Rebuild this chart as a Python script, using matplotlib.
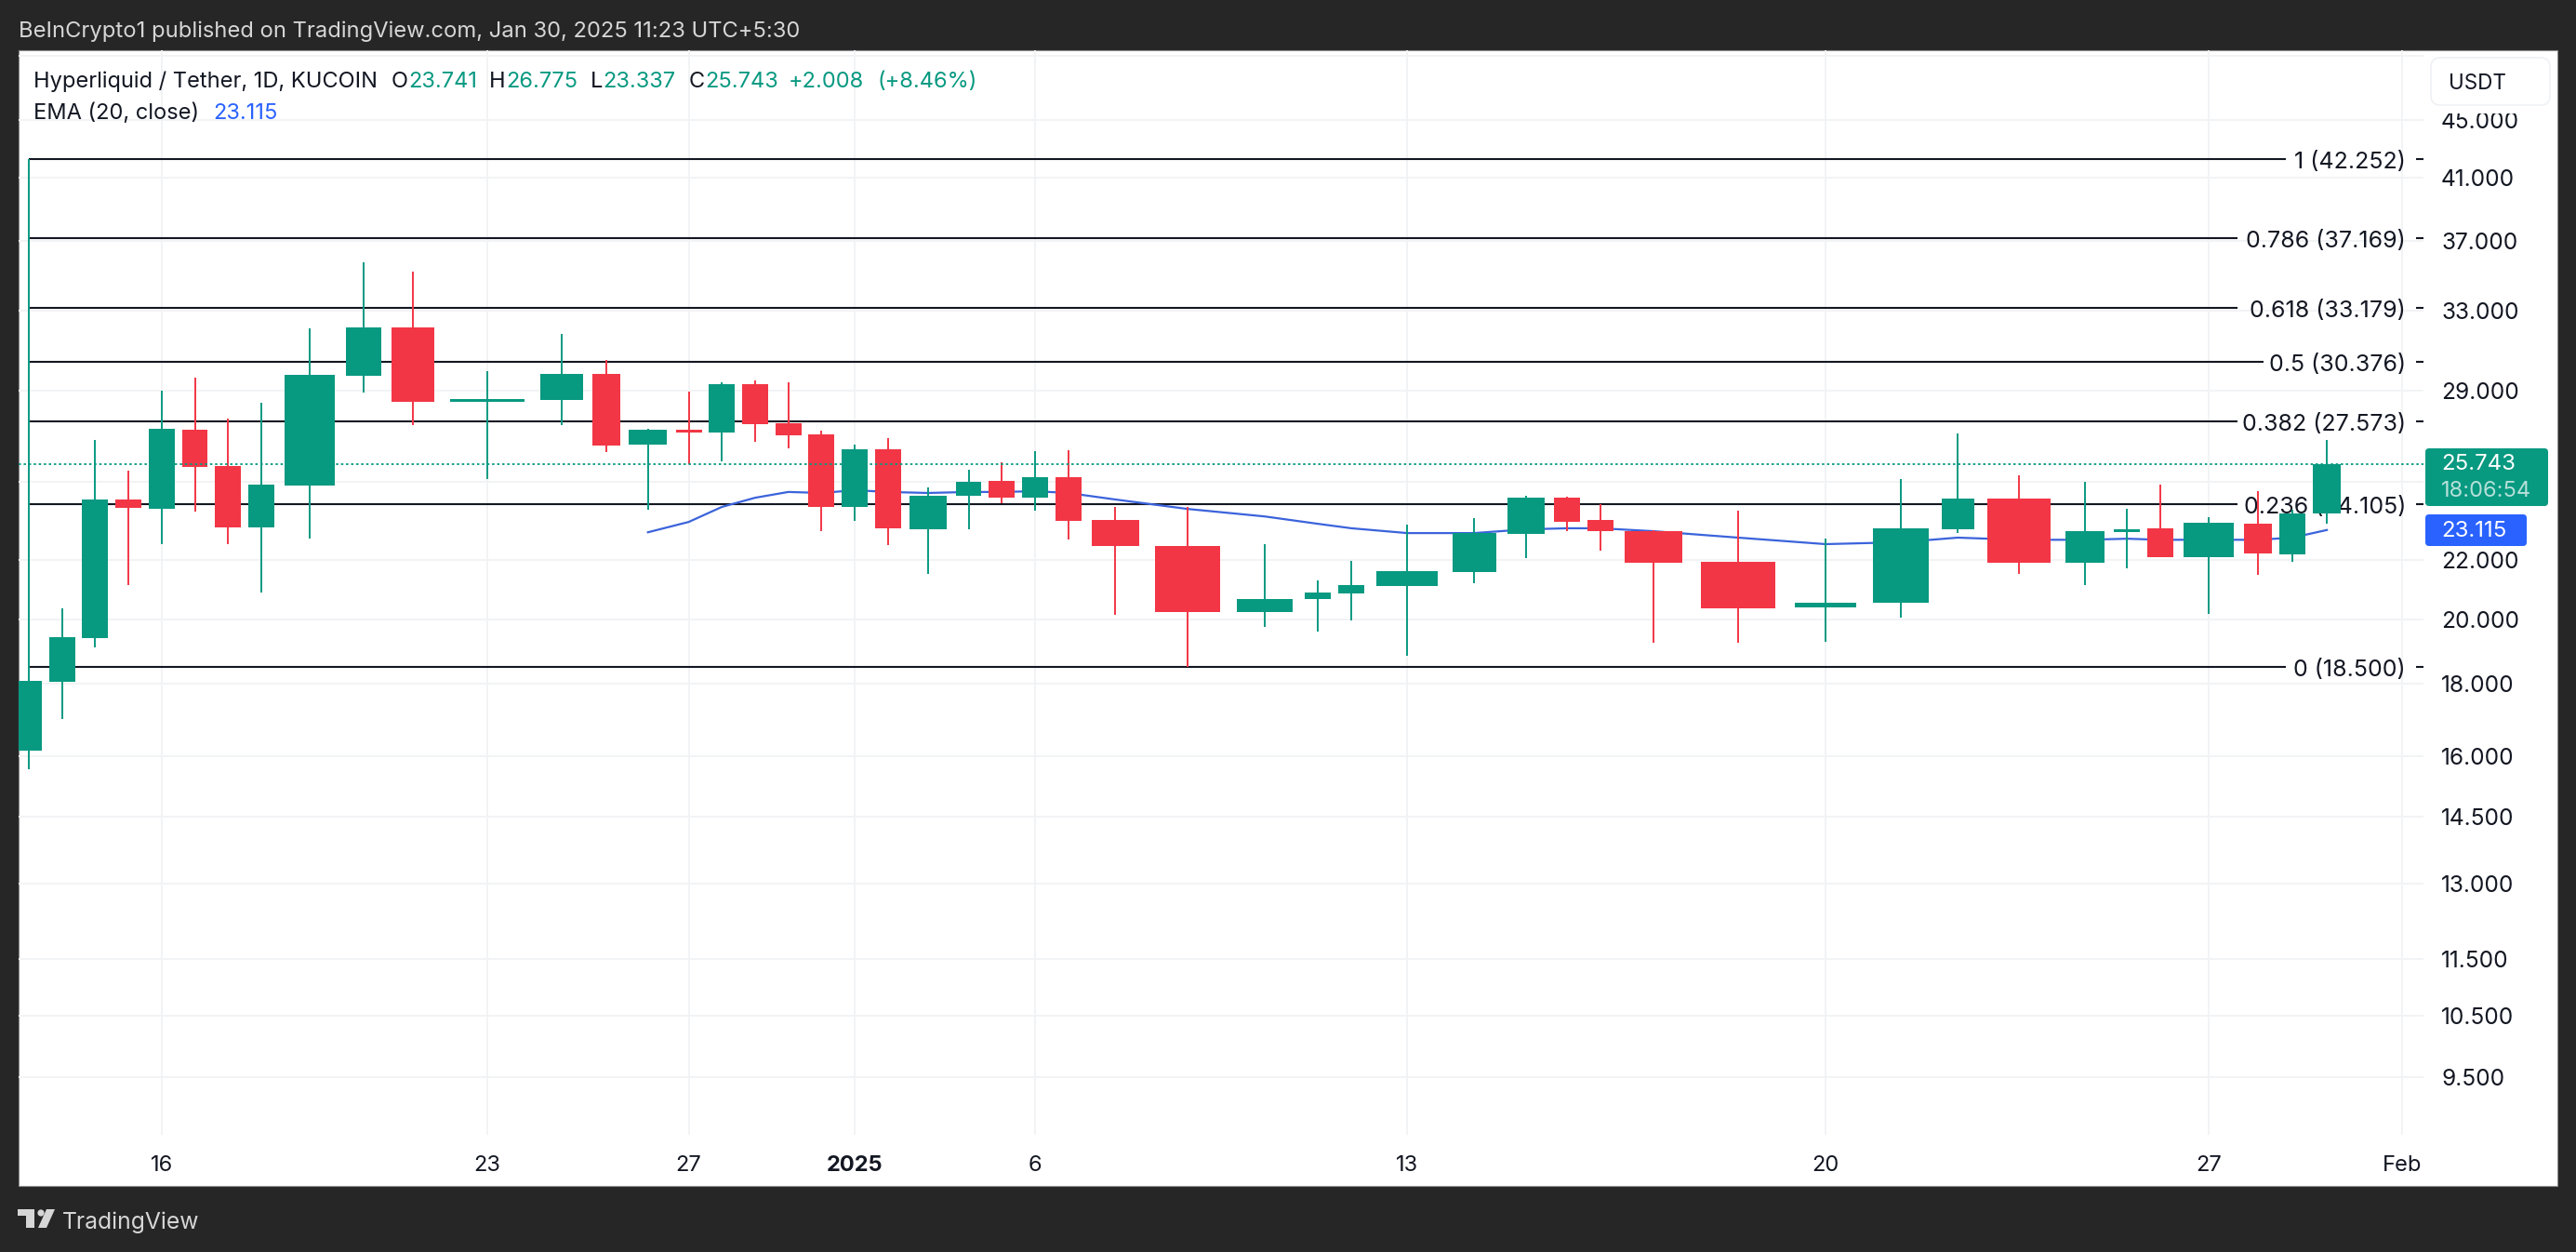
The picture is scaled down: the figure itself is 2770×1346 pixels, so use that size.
import matplotlib
matplotlib.use('Agg')
import matplotlib.pyplot as plt
import numpy as np
from matplotlib.patches import Rectangle, FancyBboxPatch, Polygon, Circle
from matplotlib.ticker import FixedLocator, FixedFormatter, NullLocator

plt.rcParams['font.family'] = ['Inter', 'DejaVu Sans']

# daily candles, Dec 12 2024 .. Jan 30 2025 (KuCoin HYPE/USDT)
opens = [16.14, 18.06, 19.40, 24.29, 23.92, 27.2, 25.64, 23.21, 24.85, 29.7,
         32.13, 28.47, 28.57, 29.8, 26.56, 27.2, 27.08, 29.3, 27.49, 27.0,
         24.0, 26.36, 23.14, 24.44, 25.03, 24.36, 25.18, 23.49, 22.52, 20.23,
         20.66, 20.85, 21.1, 21.58, 22.96, 24.36, 23.49, 23.07, 21.95, 20.39,
         20.54, 23.14, 24.33, 21.92, 23.05, 23.18, 22.11, 23.35, 22.22, 23.741]
highs = [42.252, 20.35, 26.76, 25.45, 29.0, 29.6, 27.70, 28.43, 32.1, 35.7,
         35.2, 29.93, 31.8, 30.48, 27.25, 28.95, 29.4, 29.5, 29.4, 27.15,
         26.56, 26.84, 24.77, 25.49, 25.8, 26.28, 26.32, 24.0, 24.0, 22.59,
         21.3, 21.98, 23.31, 23.56, 24.44, 24.4, 24.1, 23.1, 23.85, 22.79,
         25.1, 27.05, 25.25, 25.0, 23.92, 24.88, 23.6, 24.62, 23.9, 26.775]
lows = [15.66, 17.0, 19.10, 21.14, 22.59, 23.8, 22.59, 20.88, 22.79, 28.9,
        27.41, 25.11, 27.41, 26.24, 23.89, 25.72, 25.84, 26.68, 26.4, 23.07,
        23.46, 22.55, 21.52, 23.14, 24.14, 23.85, 22.75, 20.13, 18.5, 19.74,
        19.59, 19.95, 18.84, 21.2, 22.08, 23.07, 22.35, 19.25, 19.25, 19.28,
        20.04, 23.0, 21.52, 21.14, 21.72, 22.11, 20.17, 21.49, 21.95, 23.337]
closes = [18.1, 19.43, 24.29, 23.96, 27.24, 25.6, 23.21, 24.88, 29.75, 32.13,
          28.47, 28.60, 29.8, 26.52, 27.2, 27.08, 29.3, 27.45, 26.96, 24.0,
          26.36, 23.18, 24.44, 25.0, 24.36, 25.18, 23.46, 22.52, 20.23, 20.66,
          20.88, 21.14, 21.62, 23.0, 24.36, 23.42, 23.07, 21.92, 20.35, 20.54,
          23.18, 24.33, 21.92, 23.07, 23.15, 22.11, 23.38, 22.25, 23.74, 25.743]
# equivolume chart: the slot of each candle follows its volume (scaled)
volumes = [35.7, 35.7, 35.7, 35.7, 35.7, 35.7, 35.7, 35.7, 68.5, 47.5,
           58.5, 101.5, 58.5, 37.5, 52, 35.7, 35.7, 35.7, 35.7, 35.7,
           35.7, 35.7, 51, 35.7, 35.7, 35.7, 35.7, 66, 89.2, 76.8,
           37, 35.7, 83.9, 60.1, 51.9, 36, 35.7, 78.7, 103.3, 84.7,
           77.3, 44.7, 87.3, 54.7, 35.7, 35.7, 68.5, 37.5, 36.5, 37.5]
ema_first = 14
ema = [23.03, 23.42, 24.0, 24.36, 24.59, 24.55, 24.66, 24.59, 24.55, 24.59,
       24.59, 24.62, 24.55, 24.29, 23.92, 23.63, 23.35, 23.18, 23.0, 23.0,
       23.14, 23.18, 23.18, 23.07, 22.83, 22.59, 22.66, 22.83, 22.75, 22.75,
       22.79, 22.75, 22.75, 22.75, 22.83, 23.115]

fib_levels = ['1', '0.786', '0.618', '0.5', '0.382', '0.236', '0']
fib_prices = [42.252, 37.169, 33.179, 30.376, 27.573, 24.105, 18.5]

price_ticks = [50, 45, 41, 37, 33, 29, 25, 22, 20, 18, 16, 14.5, 13, 11.5, 10.5, 9.5]
hidden_ticks = [50, 25]  # labels sit behind the USDT button / price tag
date_idx = [4, 11, 15, 20, 25, 32, 39, 46]
date_labels = ['16', '23', '27', '2025', '6', '13', '20', '27']

GREEN = '#089981'
RED = '#F23645'
BLUE = '#2962FF'
INK = '#131722'
DARK = '#262626'
GRID = '#F2F3F5'

W, H = 2770, 1346
fig = plt.figure(figsize=(W / 100, H / 100), dpi=100, facecolor=DARK)


def px_axes(zorder):
    a = fig.add_axes([0, 0, 1, 1], zorder=zorder)
    a.set_xlim(0, W)
    a.set_ylim(H, 0)
    a.axis('off')
    return a


bg = px_axes(0)
bg.add_patch(Rectangle((20, 54), 2730, 1221, fc='white', ec='#8a8a8a', lw=0.8))

# main pane, 20..2606 x 54..1220 px
ax = fig.add_axes([20 / W, 1 - 1220 / H, 2586 / W, 1166 / H], zorder=1)
ax.patch.set_alpha(0)
for s in ax.spines.values():
    s.set_visible(False)

vol = np.array(volumes)
centers = np.concatenate([[0], np.cumsum((vol[:-1] + vol[1:]) / 2)])
body_w = vol * 0.78
o, h, l, c = map(np.array, (opens, highs, lows, closes))
colors = [GREEN if cc >= oo else RED for oo, cc in zip(o, c)]

ax.set_yscale('log')
ax.set_ylim(8.646, 50.43)
ax.set_xlim(-11, 2575)

ax.vlines(centers, l, h, colors=colors, lw=1.4, zorder=5)
ax.bar(centers, c - o, bottom=o, width=body_w, color=colors, lw=0, zorder=6)

ax.plot(centers[ema_first:], ema, color='#3B63DB', lw=1.6, zorder=4)

# fib levels, each line stops short of its label
fib_ends = [2458, 2406, 2406, 2434, 2406, 2406, 2458]
for lev, p, end in zip(fib_levels, fib_prices, fib_ends):
    ax.plot([centers[0], end - 31], [p, p], color=INK, lw=1.5, zorder=3, solid_capstyle='butt')
    ax.plot([2598 - 31, 2606 - 31], [p, p], color=INK, lw=1.5, zorder=3, solid_capstyle='butt')
    ax.annotate('%s (%.3f)' % (lev, p), (2587 - 31, p), xytext=(0, -0.8), textcoords='offset points',
                ha='right', va='center_baseline', fontsize=18, color=INK, zorder=3)

ax.plot([-11, 2575], [closes[-1], closes[-1]], color=GREEN, lw=1.3,
        ls=(0, (1.4, 1.6)), zorder=7)

# axes ticks and grid
ax.yaxis.tick_right()
ax.yaxis.set_major_locator(FixedLocator(price_ticks))
ax.yaxis.set_major_formatter(FixedFormatter(
    ['' if t in hidden_ticks else '%.3f' % t for t in price_ticks]))
ax.yaxis.set_minor_locator(NullLocator())
feb_x = centers[-1] + 2 * 40.5
ax.set_xticks(list(centers[date_idx]) + [feb_x])
ax.set_xticklabels(date_labels + ['Feb'])
ax.get_xticklabels()[3].set_fontweight('bold')
ax.tick_params(axis='y', length=0, pad=13.7, labelsize=17.6, labelcolor=INK)
ax.tick_params(axis='x', length=0, pad=15.5, labelsize=17, labelcolor=INK)
ax.grid(True, color=GRID, lw=1.4, zorder=0)
ax.set_axisbelow(True)

# overlay: header, legend, tags
top = px_axes(3)
top.text(20, 34, 'BeInCrypto1 published on TradingView.com, Jan 30, 2025 11:23 UTC+5:30',
         color='#D6D6D6', fontsize=17.1, va='center')

legend_y = 88
top.text(36, legend_y, 'Hyperliquid / Tether, 1D, KUCOIN', color=INK, fontsize=17, va='center')
for label, x, val, xv in [('O', 421, '23.741', 439), ('H', 526, '26.775', 544),
                          ('L', 635, '23.337', 648), ('C', 741, '25.743', 758)]:
    top.text(x, legend_y, label, color=INK, fontsize=17, va='center')
    top.text(xv, legend_y, val, color=GREEN, fontsize=17, va='center')
top.text(848, legend_y, '+2.008', color=GREEN, fontsize=17, va='center')
top.text(943, legend_y, '(+8.46%)', color=GREEN, fontsize=17, va='center')
top.text(36, 122, 'EMA (20, close)', color=INK, fontsize=17, va='center')
top.text(229, 122, '23.115', color=BLUE, fontsize=17, va='center')

# the button hides the top of the 45.000 label
top.add_patch(Rectangle((2614, 109), 128, 13, fc='white', ec='none'))
top.add_patch(FancyBboxPatch((2614, 62), 128, 51, boxstyle='round,pad=0,rounding_size=10',
                             fc='white', ec='#EFF1F5', lw=1.2))
top.text(2633, 90, 'USDT', color=INK, fontsize=16.2, va='center')

top.add_patch(FancyBboxPatch((2608, 482), 132, 62, boxstyle='round,pad=0,rounding_size=4',
                             fc=GREEN, ec='none'))
top.text(2625, 499, '25.743', color='white', fontsize=17.3, va='center')
top.text(2625, 528, '18:06:54', color='#B5E0D8', fontsize=17, va='center')
top.add_patch(FancyBboxPatch((2608, 553), 109, 34, boxstyle='round,pad=0,rounding_size=4',
                             fc=BLUE, ec='none'))
top.text(2625, 571, '23.115', color='white', fontsize=17.3, va='center')

# logo, roughly traced
logo = '#D6D6D6'
top.add_patch(Polygon([(19, 1300), (37, 1300), (37, 1320), (28, 1320), (28, 1307), (19, 1307)],
                      fc=logo, ec='none'))
top.add_patch(Circle((44, 1304), 3.6, fc=logo, ec='none'))
top.add_patch(Polygon([(50, 1300), (59, 1300), (50, 1320), (41, 1320)], fc=logo, ec='none'))
top.text(67, 1314, 'TradingView', color=logo, fontsize=17.8, va='center')

fig.savefig('out.png', dpi=100, facecolor=DARK)
